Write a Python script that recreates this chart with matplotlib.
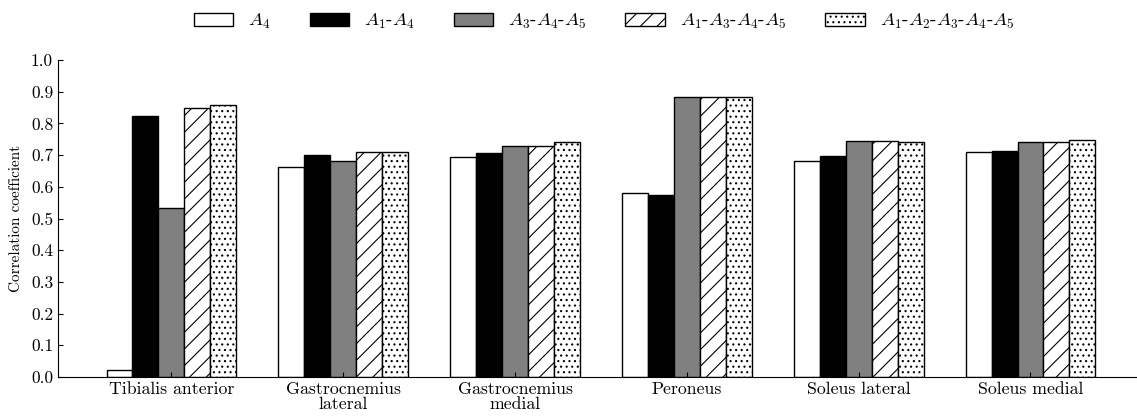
import numpy as np
import matplotlib
matplotlib.use('Agg')
import matplotlib.pyplot as plt

plt.rcParams['font.family'] = 'serif'
plt.rcParams['font.serif'] = ['cmr10']
plt.rcParams['mathtext.fontset'] = 'cm'
plt.rcParams['axes.formatter.use_mathtext'] = True
plt.rcParams['hatch.linewidth'] = 0.8

muscles = ['Tibialis anterior', 'Gastrocnemius\nlateral', 'Gastrocnemius\nmedial',
           'Peroneus', 'Soleus lateral', 'Soleus medial']
labels = [r'$A_4$', r'$A_1$-$A_4$', r'$A_3$-$A_4$-$A_5$',
          r'$A_1$-$A_3$-$A_4$-$A_5$', r'$A_1$-$A_2$-$A_3$-$A_4$-$A_5$']

a4 = [0.021, 0.661, 0.694, 0.581, 0.682, 0.709]
a1_a4 = [0.825, 0.700, 0.707, 0.573, 0.698, 0.714]
a3_a4_a5 = [0.532, 0.683, 0.729, 0.882, 0.743, 0.740]
a1_a3_a4_a5 = [0.848, 0.709, 0.728, 0.882, 0.743, 0.741]
a1_a2_a3_a4_a5 = [0.859, 0.711, 0.740, 0.882, 0.742, 0.748]

series = [a4, a1_a4, a3_a4_a5, a1_a3_a4_a5, a1_a2_a3_a4_a5]
colors = ['white', 'black', '#808080', 'white', 'white']
hatches = [None, None, None, '//', '...']

fig = plt.figure(figsize=(11.37, 4.17), dpi=100)
ax = fig.add_axes([0.051, 0.096, 0.949, 0.76])

x = np.arange(len(muscles))
w = 0.151
for i, (vals, c, h, lab) in enumerate(zip(series, colors, hatches, labels)):
    ax.bar(x + (i - 2) * w, vals, w, color=c, edgecolor='black', hatch=h,
           linewidth=1.0, label=lab)

ax.set_xlim(-0.66, 5.62)
ax.set_ylim(0, 1.0)
ax.set_xticks(x)
ax.set_xticklabels(muscles, fontsize=12.8, linespacing=1.0)
ax.set_yticks(np.arange(0, 1.01, 0.1))
ax.set_yticklabels(['%.1f' % v for v in np.arange(0, 1.01, 0.1)], fontsize=12.5)
ax.set_ylabel('Correlation coefficient', fontsize=11, labelpad=6)
ax.tick_params(direction='in', top=False, right=False)
ax.spines['top'].set_visible(False)
ax.spines['right'].set_visible(False)

fig.legend(loc='upper center', bbox_to_anchor=(0.531, 1.012), ncol=5, frameon=False,
           fontsize=13.5, handlelength=2.1, handleheight=0.7, handletextpad=0.8,
           columnspacing=2.1)

plt.savefig('out.png', dpi=100)
